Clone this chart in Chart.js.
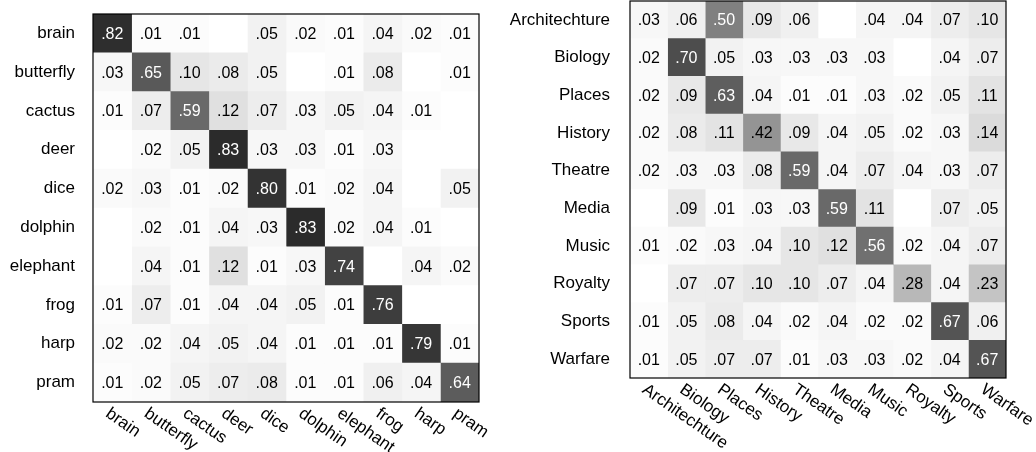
<!DOCTYPE html>
<html>
<head>
<meta charset="utf-8">
<script src="https://cdn.jsdelivr.net/npm/chart.js@4.4.1/dist/chart.umd.min.js"></script>
<style>
  html, body { margin: 0; padding: 0; background: #fff; }
  #wrap { position: relative; width: 1036px; height: 452px; overflow: hidden; }
  canvas { position: absolute; top: 0; }
  #objects { left: 0; }
  #topics { left: 500px; }
</style>
</head>
<body>
<div id="wrap">
  <canvas id="objects" width="500" height="452"></canvas>
  <canvas id="topics" width="536" height="452"></canvas>
</div>
<script>
// Object recognition confusion matrix (rows: true class, columns: predicted class)
const objectClasses = ['brain', 'butterfly', 'cactus', 'deer', 'dice', 'dolphin', 'elephant', 'frog', 'harp', 'pram'];
const objectMatrix = [
  [0.82, 0.01, 0.01, 0,    0.05, 0.02, 0.01, 0.04, 0.02, 0.01],
  [0.03, 0.65, 0.10, 0.08, 0.05, 0,    0.01, 0.08, 0,    0.01],
  [0.01, 0.07, 0.59, 0.12, 0.07, 0.03, 0.05, 0.04, 0.01, 0   ],
  [0,    0.02, 0.05, 0.83, 0.03, 0.03, 0.01, 0.03, 0,    0   ],
  [0.02, 0.03, 0.01, 0.02, 0.80, 0.01, 0.02, 0.04, 0,    0.05],
  [0,    0.02, 0.01, 0.04, 0.03, 0.83, 0.02, 0.04, 0.01, 0   ],
  [0,    0.04, 0.01, 0.12, 0.01, 0.03, 0.74, 0,    0.04, 0.02],
  [0.01, 0.07, 0.01, 0.04, 0.04, 0.05, 0.01, 0.76, 0,    0   ],
  [0.02, 0.02, 0.04, 0.05, 0.04, 0.01, 0.01, 0.01, 0.79, 0.01],
  [0.01, 0.02, 0.05, 0.07, 0.08, 0.01, 0.01, 0.06, 0.04, 0.64]
];

// Topic classification confusion matrix
const topicClasses = ['Architechture', 'Biology', 'Places', 'History', 'Theatre', 'Media', 'Music', 'Royalty', 'Sports', 'Warfare'];
const topicMatrix = [
  [0.03, 0.06, 0.50, 0.09, 0.06, 0,    0.04, 0.04, 0.07, 0.10],
  [0.02, 0.70, 0.05, 0.03, 0.03, 0.03, 0.03, 0,    0.04, 0.07],
  [0.02, 0.09, 0.63, 0.04, 0.01, 0.01, 0.03, 0.02, 0.05, 0.11],
  [0.02, 0.08, 0.11, 0.42, 0.09, 0.04, 0.05, 0.02, 0.03, 0.14],
  [0.02, 0.03, 0.03, 0.08, 0.59, 0.04, 0.07, 0.04, 0.03, 0.07],
  [0,    0.09, 0.01, 0.03, 0.03, 0.59, 0.11, 0,    0.07, 0.05],
  [0.01, 0.02, 0.03, 0.04, 0.10, 0.12, 0.56, 0.02, 0.04, 0.07],
  [0,    0.07, 0.07, 0.10, 0.10, 0.07, 0.04, 0.28, 0.04, 0.23],
  [0.01, 0.05, 0.08, 0.04, 0.02, 0.04, 0.02, 0.02, 0.67, 0.06],
  [0.01, 0.05, 0.07, 0.07, 0.01, 0.03, 0.03, 0.02, 0.04, 0.67]
];

const FONT = '"Liberation Sans", Arial, Helvetica, sans-serif';
const LABEL_SIZE = 17;
const VALUE_SIZE = 16;

// Reversed grey map: 0 -> white, 1 -> black
function shade(v) {
  const g = Math.round(255 * (1 - v));
  return `rgb(${g},${g},${g})`;
}

function formatValue(v) {
  if (!v) return '';
  return '.' + String(Math.round(v * 100)).padStart(2, '0');
}

// Cell annotations, frame and rotated column labels
function matrixDecor(classes, matrix) {
  return {
    id: 'matrixDecor',
    afterDatasetsDraw(chart) {
      const { ctx, chartArea, scales } = chart;
      const xs = scales.x, ys = scales.y;
      ctx.save();
      ctx.font = `${VALUE_SIZE}px ${FONT}`;
      ctx.textAlign = 'center';
      ctx.textBaseline = 'middle';
      matrix.forEach((row, i) => {
        row.forEach((v, j) => {
          const label = formatValue(v);
          if (!label) return;
          ctx.fillStyle = v >= 0.5 ? '#ffffff' : '#000000';
          ctx.fillText(label, xs.getPixelForValue(j + 0.5), ys.getPixelForValue(i) + 1);
        });
      });
      ctx.strokeStyle = '#000';
      ctx.lineWidth = 1.2;
      ctx.strokeRect(chartArea.left, chartArea.top, chartArea.right - chartArea.left, chartArea.bottom - chartArea.top);

      ctx.font = `${LABEL_SIZE}px ${FONT}`;
      ctx.fillStyle = '#000';
      ctx.textAlign = 'left';
      ctx.textBaseline = 'top';
      classes.forEach((c, j) => {
        ctx.save();
        ctx.translate(xs.getPixelForValue(j + 0.5), chartArea.bottom + 3);
        ctx.rotate(35 * Math.PI / 180);
        ctx.fillText(c, 0, 0);
        ctx.restore();
      });
      ctx.restore();
    }
  };
}

function buildMatrix(canvasId, classes, matrix, area) {
  const n = classes.length;
  // one floating bar per column; each row's bar spans that column's slot
  const datasets = classes.map((_, j) => ({
    data: classes.map(() => [j, j + 1]),
    backgroundColor: matrix.map(row => shade(row[j])),
    borderWidth: 0,
    grouped: false,
    barPercentage: 1,
    categoryPercentage: 1
  }));
  return new Chart(document.getElementById(canvasId), {
    type: 'bar',
    data: { labels: classes, datasets },
    options: {
      indexAxis: 'y',
      responsive: false,
      animation: false,
      events: [],
      layout: { padding: { left: 0, top: area.top, right: area.right, bottom: area.bottom } },
      plugins: { legend: { display: false }, tooltip: { enabled: false } },
      scales: {
        x: { type: 'linear', min: 0, max: n, display: false },
        y: {
          type: 'category',
          offset: true,
          grid: { display: false, drawTicks: false },
          border: { display: false },
          ticks: { color: '#000', font: { family: FONT, size: LABEL_SIZE }, padding: area.gap },
          afterFit(scale) {
            scale.width = area.left;
            scale.paddingTop = 0;
            scale.paddingBottom = 0;
          }
        }
      }
    },
    plugins: [matrixDecor(classes, matrix)]
  });
}

buildMatrix('objects', objectClasses, objectMatrix, { left: 93, top: 14, right: 21, bottom: 50, gap: 18 });
buildMatrix('topics', topicClasses, topicMatrix, { left: 130, top: 1, right: 30, bottom: 74, gap: 20 });
</script>
</body>
</html>
